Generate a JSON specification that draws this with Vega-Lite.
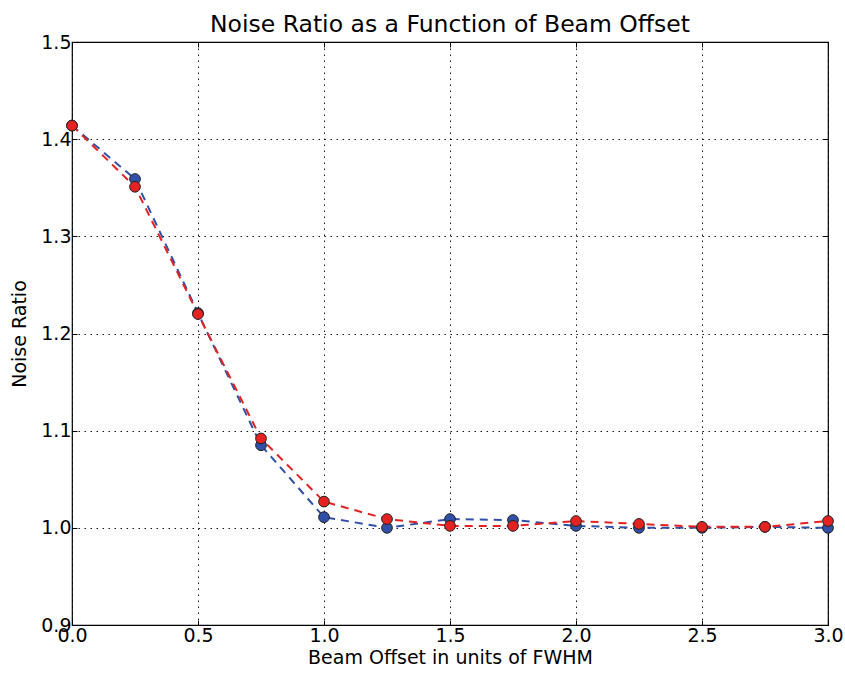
{
  "$schema": "https://vega.github.io/schema/vega-lite/v6.json",
  "width": 756,
  "height": 583,
  "autosize": {"type": "none"},
  "padding": {"left": 72, "top": 42, "right": 17, "bottom": 48},
  "background": "white",
  "title": {"text": "Noise Ratio as a Function of Beam Offset", "font": "DejaVu Sans", "fontSize": 23.5, "fontWeight": "normal", "color": "black", "offset": -3},
  "config": {
    "view": {"stroke": "black", "strokeWidth": 1.2},
    "axis": {
      "labelFont": "DejaVu Sans", "labelFontSize": 19, "labelColor": "black", "labelFlush": false,
      "titleFont": "DejaVu Sans", "titleFontSize": 19, "titleFontWeight": "normal", "titleColor": "black",
      "grid": true, "gridColor": "black", "gridDash": [1.5, 4.5], "gridOpacity": 0.9, "gridWidth": 1,
      "domain": false, "tickColor": "black", "tickSize": -5, "labelPadding": 6
    }
  },
  "data": {"values": [
    {"x": 0.0, "y": 1.414, "s": "blue"},
    {"x": 0.25, "y": 1.359, "s": "blue"},
    {"x": 0.5, "y": 1.221, "s": "blue"},
    {"x": 0.75, "y": 1.085, "s": "blue"},
    {"x": 1.0, "y": 1.011, "s": "blue"},
    {"x": 1.25, "y": 1.000, "s": "blue"},
    {"x": 1.5, "y": 1.009, "s": "blue"},
    {"x": 1.75, "y": 1.008, "s": "blue"},
    {"x": 2.0, "y": 1.002, "s": "blue"},
    {"x": 2.25, "y": 1.000, "s": "blue"},
    {"x": 2.5, "y": 1.000, "s": "blue"},
    {"x": 2.75, "y": 1.001, "s": "blue"},
    {"x": 3.0, "y": 1.000, "s": "blue"},
    {"x": 0.0, "y": 1.414, "s": "red"},
    {"x": 0.25, "y": 1.351, "s": "red"},
    {"x": 0.5, "y": 1.220, "s": "red"},
    {"x": 0.75, "y": 1.092, "s": "red"},
    {"x": 1.0, "y": 1.027, "s": "red"},
    {"x": 1.25, "y": 1.009, "s": "red"},
    {"x": 1.5, "y": 1.002, "s": "red"},
    {"x": 1.75, "y": 1.002, "s": "red"},
    {"x": 2.0, "y": 1.007, "s": "red"},
    {"x": 2.25, "y": 1.004, "s": "red"},
    {"x": 2.5, "y": 1.001, "s": "red"},
    {"x": 2.75, "y": 1.001, "s": "red"},
    {"x": 3.0, "y": 1.007, "s": "red"}
  ]},
  "encoding": {
    "color": {"field": "s", "type": "nominal", "scale": {"domain": ["blue", "red"], "range": ["#3050a8", "#e52222"]}, "legend": null},
    "order": {"field": "s"}
  },
  "layer": [
    {
      "mark": {"type": "line", "strokeDash": [8, 6], "strokeWidth": 2},
      "encoding": {
        "x": {"field": "x", "type": "quantitative", "scale": {"domain": [0, 3], "nice": false, "zero": false}, "axis": {"values": [0, 0.5, 1, 1.5, 2, 2.5, 3], "format": ".1f", "title": "Beam Offset in units of FWHM", "titlePadding": 3, "labelPadding": 6}},
        "y": {"field": "y", "type": "quantitative", "scale": {"domain": [0.9, 1.5], "nice": false, "zero": false}, "axis": {"values": [0.9, 1.0, 1.1, 1.2, 1.3, 1.4, 1.5], "format": ".1f", "title": "Noise Ratio", "titlePadding": 11}},
        "detail": {"field": "s"}
      }
    },
    {
      "mark": {"type": "point", "filled": true, "size": 115, "stroke": "#222222", "strokeWidth": 1, "opacity": 1},
      "encoding": {
        "x": {"field": "x", "type": "quantitative", "axis": {"orient": "top", "values": [0, 0.5, 1, 1.5, 2, 2.5, 3], "labels": false, "grid": false, "title": null}},
        "y": {"field": "y", "type": "quantitative", "axis": {"orient": "right", "values": [0.9, 1.0, 1.1, 1.2, 1.3, 1.4, 1.5], "labels": false, "grid": false, "title": null}}
      }
    }
  ],
  "resolve": {"axis": {"x": "independent", "y": "independent"}}
}
